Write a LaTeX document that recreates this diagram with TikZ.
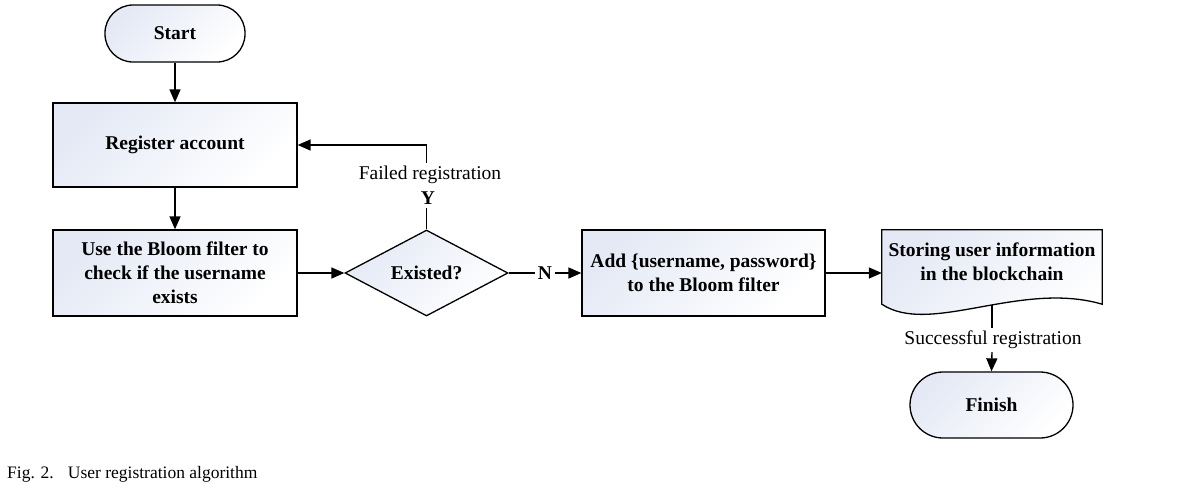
\documentclass[tikz,border=0pt]{standalone}
\usepackage{fontspec}
\setmainfont{Liberation Serif}
\usetikzlibrary{shapes.geometric,arrows.meta,calc,backgrounds}
\definecolor{fillc}{HTML}{E4E9F5}
\begin{document}
\begin{tikzpicture}[x=1pt,y=-1pt,
  shadefill/.style={top color=fillc, bottom color=white, shading angle=45},
  box/.style={draw, line width=1.3pt, shadefill, align=center, inner sep=0pt,
    font=\bfseries\fontsize{19.5}{24}\selectfont},
  term/.style={box, rounded corners=#1},
  lbl/.style={inner sep=3pt, font=\fontsize{19.5}{22}\selectfont},
  blbl/.style={inner sep=3pt, font=\bfseries\fontsize{19.5}{22}\selectfont},
  conn/.style={line width=1.4pt, -{Triangle[length=13pt,width=11pt]}},
  plain/.style={line width=1.4pt}
]
\useasboundingbox (0,0) rectangle (1201,499);

\node[term=28pt, minimum width=140pt, minimum height=57pt] (start) at (175,33.5) {Start};
\node[box, minimum width=244pt, minimum height=84pt] (reg) at (175,145) {Register account};
\node[box, minimum width=244pt, minimum height=86pt] (check) at (175,273)
  {Use the Bloom filter to\\check if the username\\exists};
\node[box, diamond, aspect=1.9, minimum width=163pt, minimum height=86pt] (dia) at (426.5,273) {Existed?};
\node[box, minimum width=243pt, minimum height=86pt] (add) at (703.5,273)
  {Add \{username, password\}\\to the Bloom filter};
\node[inner sep=0pt, minimum width=220pt, minimum height=74pt] (doc) at (992,267) {};
\begin{scope}[on background layer]
\shade[draw, line width=1.3pt, shadefill]
  (doc.north west) -- (doc.north east) -- (doc.south east)
  .. controls ($(doc.south east)+(-82,-24)$) and ($(doc.south west)+(48,32)$) .. (doc.south west) -- cycle;
\end{scope}
\node[align=center, inner sep=0pt, font=\bfseries\fontsize{19.5}{24}\selectfont] (doctext) at (992,262)
  {Storing user information\\in the blockchain};
\coordinate (docbot) at (992,305);
\node[term=33pt, minimum width=163pt, minimum height=66pt] (finish) at (991.5,405) {Finish};

\node[lbl] (failed) at (430,175) {Failed registration};
\node[blbl] (y) at (428,198) {Y};
\node[blbl] (n) at (545,273) {N};
\node[lbl] (succ) at (993,340) {Successful registration};

\draw[conn] (start) -- (reg);
\draw[conn] (reg) -- (check);
\draw[conn] (check) -- (dia);
\draw[plain] (dia.north) -- (dia.north |- y.south);
\draw[conn] (dia.north |- failed.north) |- (reg.east);
\draw[plain] (dia.east) -- (n.west);
\draw[conn] (n.east) -- (add.west);
\draw[conn] (add.east) -- (add.east -| doc.west);
\draw[plain] (docbot) -- (docbot |- succ.north);
\draw[conn] (docbot |- succ.south) -- (finish.north);

\node[anchor=base west, inner sep=0pt, font=\fontsize{17.5}{20}\selectfont] (cap) at (7,478)
  {Fig. 2.\hspace{14pt}User registration algorithm};
\end{tikzpicture}
\end{document}
